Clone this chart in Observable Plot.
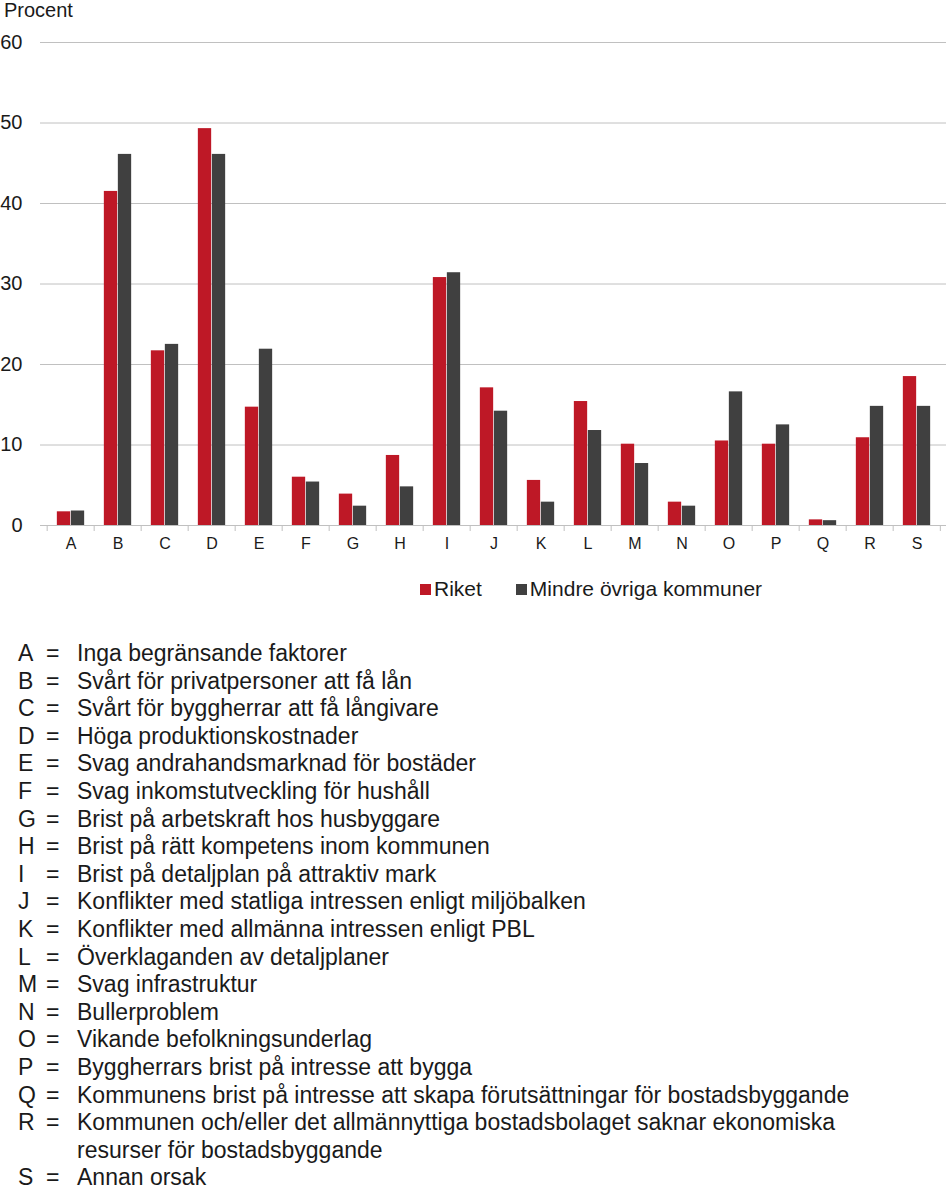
<!DOCTYPE html>
<html>
<head>
<meta charset="utf-8">
<script src="https://cdn.jsdelivr.net/npm/d3@7"></script>
<script src="https://cdn.jsdelivr.net/npm/@observablehq/plot@0.6"></script>
<style>
  body { margin: 0; background: #fff; font-family: "Liberation Sans", Arial, sans-serif; color: #1a1a1a; }
  #wrap { position: relative; width: 946px; height: 1192px; overflow: hidden; }
  #unit { position: absolute; left: 4px; top: 0px; font-size: 20px; line-height: 20px; }
  #chart { position: absolute; left: 0; top: 0; }
  #legend { position: absolute; top: 577px; left: 420px; font-size: 21px; display: flex; align-items: center; white-space: nowrap; }
  #legend .sw { display: inline-block; width: 11px; height: 11px; margin-right: 3px; }
  #legend .item { display: flex; align-items: center; margin-right: 34px; }
  #defs { position: absolute; top: 640px; left: 0; font-size: 23px; line-height: 27.6px; }
  #defs .row { position: relative; height: 27.6px; }
  #defs .row.tall { height: 55.2px; }
  #defs .k { position: absolute; left: 18px; }
  #defs .eq { position: absolute; left: 46px; }
  #defs .t { position: absolute; left: 77px; width: 860px; white-space: nowrap; }
</style>
</head>
<body>
<div id="wrap">
  <div id="chart"></div>
  <div id="unit">Procent</div>
  <div id="legend"></div>
  <div id="defs"></div>
</div>
<script>
const categories = ["A","B","C","D","E","F","G","H","I","J","K","L","M","N","O","P","Q","R","S"];
const riket  = [1.7, 41.5, 21.7, 49.3, 14.7, 6.0, 3.9, 8.7, 30.8, 17.1, 5.6, 15.4, 10.1, 2.9, 10.5, 10.1, 0.7, 10.9, 18.5];
const mindre = [1.8, 46.1, 22.5, 46.1, 21.9, 5.4, 2.4, 4.8, 31.4, 14.2, 2.9, 11.8, 7.7, 2.4, 16.6, 12.5, 0.6, 14.8, 14.8];
const seriesNames = ["Riket", "Mindre övriga kommuner"];
const seriesColors = ["#be1826", "#404040"];
const yTicks = [0, 10, 20, 30, 40, 50, 60];
const descriptions = [
  "Inga begränsande faktorer",
  "Svårt för privatpersoner att få lån",
  "Svårt för byggherrar att få långivare",
  "Höga produktionskostnader",
  "Svag andrahandsmarknad för bostäder",
  "Svag inkomstutveckling för hushåll",
  "Brist på arbetskraft hos husbyggare",
  "Brist på rätt kompetens inom kommunen",
  "Brist på detaljplan på attraktiv mark",
  "Konflikter med statliga intressen enligt miljöbalken",
  "Konflikter med allmänna intressen enligt PBL",
  "Överklaganden av detaljplaner",
  "Svag infrastruktur",
  "Bullerproblem",
  "Vikande befolkningsunderlag",
  "Byggherrars brist på intresse att bygga",
  "Kommunens brist på intresse att skapa förutsättningar för bostadsbyggande",
  "Kommunen och/eller det allmännyttiga bostadsbolaget saknar ekonomiska<br>resurser för bostadsbyggande",
  "Annan orsak"
];

const data = categories.flatMap((c, i) => [
  {cat: c, series: seriesNames[0], value: riket[i]},
  {cat: c, series: seriesNames[1], value: mindre[i]}
]);

const W = 946, mL = 40, mR = 0;
const step = (W - mL - mR) / categories.length;
const barW = 14;
const half = step / 2;

const plot = Plot.plot({
  width: W,
  height: 560,
  marginTop: 42,
  marginBottom: 35,
  marginLeft: mL,
  marginRight: mR,
  style: {fontFamily: "Liberation Sans, Arial, sans-serif", fontSize: "16px", color: "#1a1a1a"},
  x: {domain: categories, padding: 0, label: null},
  y: {domain: [0, 60], ticks: yTicks, label: null},
  color: {domain: seriesNames, range: seriesColors},
  marks: [
    Plot.gridY(yTicks, {stroke: "#c0c0c0", strokeOpacity: 1, strokeWidth: 1}),
    Plot.barY(data.filter(d => d.series === seriesNames[0]), {x: "cat", y: "value", fill: "series", insetLeft: half - barW, insetRight: half}),
    Plot.barY(data.filter(d => d.series === seriesNames[1]), {x: "cat", y: "value", fill: "series", insetLeft: half, insetRight: half - barW}),
    Plot.ruleY([0], {stroke: "#c0c0c0"}),
    Plot.ruleX(categories, {x: d => d, dx: -half, y1: 0, y2: 0, insetBottom: -6, stroke: "#c0c0c0"}),
    Plot.ruleX(categories.slice(-1), {x: d => d, dx: half - 0.5, y1: 0, y2: 0, insetBottom: -6, stroke: "#c0c0c0"}),
    Plot.axisY(yTicks, {tickSize: 0, tickPadding: 18, fontSize: 20, textAnchor: "end"}),
    Plot.axisX({tickSize: 0, tickPadding: 12, fontSize: 16})
  ]
});
document.getElementById("chart").appendChild(plot);

const legend = document.getElementById("legend");
seriesNames.forEach((s, i) => {
  const it = document.createElement("div");
  it.className = "item";
  it.innerHTML = `<span class="sw" style="background:${seriesColors[i]}"></span><span>${s}</span>`;
  legend.appendChild(it);
});

const defs = document.getElementById("defs");
categories.forEach((c, i) => {
  const r = document.createElement("div");
  r.className = "row" + (descriptions[i].includes("<br>") ? " tall" : "");
  r.innerHTML = `<span class="k">${c}</span><span class="eq">=</span><span class="t">${descriptions[i]}</span>`;
  defs.appendChild(r);
});
</script>
</body>
</html>
